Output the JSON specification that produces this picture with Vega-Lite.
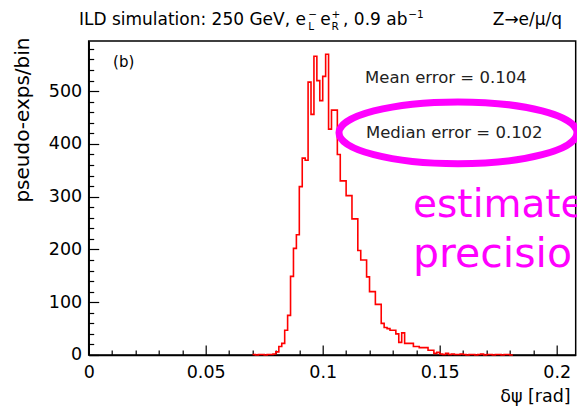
{
  "$schema": "https://vega.github.io/schema/vega-lite/v6.json",
  "autosize": {"type": "none"},
  "width": 487,
  "height": 314,
  "padding": {"left": 88.7, "top": 41, "right": 1, "bottom": 55},
  "background": "white",
  "config": {
    "view": {"stroke": "black", "strokeWidth": 1.5},
    "text": {"font": "DejaVu Sans", "fill": "black", "fontWeight": "normal"}
  },
  "resolve": {"axis": {"x": "independent", "y": "independent"}},
  "layer": [
    {
      "data": {"values": [
        {"x": 0.07, "n": 1}, {"x": 0.07125, "n": 0}, {"x": 0.0725, "n": 1}, {"x": 0.07375, "n": 1},
        {"x": 0.075, "n": 0}, {"x": 0.07625, "n": 1}, {"x": 0.0775, "n": 1}, {"x": 0.07875, "n": 2},
        {"x": 0.08, "n": 6}, {"x": 0.08125, "n": 16}, {"x": 0.0825, "n": 22}, {"x": 0.08375, "n": 47},
        {"x": 0.085, "n": 75}, {"x": 0.08625, "n": 149}, {"x": 0.0875, "n": 202}, {"x": 0.08875, "n": 228},
        {"x": 0.09, "n": 319}, {"x": 0.09125, "n": 373}, {"x": 0.0925, "n": 369}, {"x": 0.09375, "n": 517},
        {"x": 0.095, "n": 456}, {"x": 0.09625, "n": 566}, {"x": 0.0975, "n": 520}, {"x": 0.09875, "n": 482},
        {"x": 0.1, "n": 528}, {"x": 0.10125, "n": 570}, {"x": 0.1025, "n": 428}, {"x": 0.10375, "n": 464},
        {"x": 0.105, "n": 464}, {"x": 0.10625, "n": 380}, {"x": 0.1075, "n": 330}, {"x": 0.10875, "n": 330},
        {"x": 0.11, "n": 302}, {"x": 0.11125, "n": 302}, {"x": 0.1125, "n": 258}, {"x": 0.11375, "n": 258},
        {"x": 0.115, "n": 198}, {"x": 0.11625, "n": 180}, {"x": 0.1175, "n": 180}, {"x": 0.11875, "n": 148},
        {"x": 0.12, "n": 120}, {"x": 0.12125, "n": 120}, {"x": 0.1225, "n": 96}, {"x": 0.12375, "n": 96},
        {"x": 0.125, "n": 60}, {"x": 0.12625, "n": 52}, {"x": 0.1275, "n": 50}, {"x": 0.12875, "n": 47},
        {"x": 0.13, "n": 47}, {"x": 0.13125, "n": 40}, {"x": 0.1325, "n": 24}, {"x": 0.13375, "n": 42},
        {"x": 0.135, "n": 22}, {"x": 0.13625, "n": 22}, {"x": 0.1375, "n": 22}, {"x": 0.13875, "n": 16},
        {"x": 0.14, "n": 16}, {"x": 0.14125, "n": 14}, {"x": 0.1425, "n": 14}, {"x": 0.14375, "n": 14},
        {"x": 0.145, "n": 9}, {"x": 0.14625, "n": 9}, {"x": 0.1475, "n": 3}, {"x": 0.14875, "n": 5},
        {"x": 0.15, "n": 2}, {"x": 0.15125, "n": 1}, {"x": 0.1525, "n": 3}, {"x": 0.15375, "n": 1},
        {"x": 0.155, "n": 2}, {"x": 0.15625, "n": 1}, {"x": 0.1575, "n": 1}, {"x": 0.15875, "n": 2},
        {"x": 0.16, "n": 1}, {"x": 0.16125, "n": 0}, {"x": 0.1625, "n": 1}, {"x": 0.16375, "n": 1},
        {"x": 0.165, "n": 0}, {"x": 0.16625, "n": 1}, {"x": 0.1675, "n": 2}, {"x": 0.16875, "n": 0},
        {"x": 0.17, "n": 1}, {"x": 0.17125, "n": 1}, {"x": 0.1725, "n": 0}, {"x": 0.17375, "n": 1},
        {"x": 0.175, "n": 1}, {"x": 0.17625, "n": 0}, {"x": 0.1775, "n": 1}, {"x": 0.17875, "n": 1},
        {"x": 0.18, "n": 0}, {"x": 0.18125, "n": 0}
      ]},
      "mark": {"type": "line", "interpolate": "step-after", "color": "#ff0000", "strokeWidth": 1.6},
      "encoding": {
        "x": {
          "field": "x", "type": "quantitative",
          "scale": {"domain": [0, 0.2081], "nice": false, "zero": false},
          "axis": {
            "values": [0, 0.01, 0.02, 0.03, 0.04, 0.05, 0.06, 0.07, 0.08, 0.09, 0.1, 0.11, 0.12, 0.13, 0.14, 0.15, 0.16, 0.17, 0.18, 0.19, 0.2],
            "labelExpr": "abs(datum.value*20-round(datum.value*20))<1e-6 ? format(datum.value,'~g') : ''",
            "tickSize": {"condition": {"test": "abs(datum.value*20-round(datum.value*20))<1e-6", "value": -10}, "value": -5},
            "tickColor": "black", "tickWidth": 1.2,
            "domainColor": "black", "domainWidth": 1.5,
            "grid": false, "labelFlush": false, "labelOverlap": false,
            "labelFont": "DejaVu Sans", "labelFontSize": 17.5, "labelColor": "black", "labelPadding": 19,
            "title": "δψ [rad]", "titleFont": "DejaVu Sans", "titleFontSize": 17.5, "titleFontWeight": "normal",
            "titleColor": "black", "titleAlign": "right", "titleBaseline": "middle", "titleX": 481.5, "titleY": 42
          }
        },
        "y": {
          "field": "n", "type": "quantitative",
          "scale": {"domain": [0, 595], "nice": false},
          "axis": {
            "values": [0, 20, 40, 60, 80, 100, 120, 140, 160, 180, 200, 220, 240, 260, 280, 300, 320, 340, 360, 380, 400, 420, 440, 460, 480, 500, 520, 540, 560, 580],
            "labelExpr": "datum.value % 100 == 0 ? datum.value : ''",
            "tickSize": {"condition": {"test": "datum.value % 100 == 0", "value": -10}, "value": -5},
            "tickColor": "black", "tickWidth": 1.2,
            "domainColor": "black", "domainWidth": 1.5,
            "grid": false, "labelOverlap": false, "labelFlush": false,
            "labelFont": "DejaVu Sans", "labelFontSize": 17.5, "labelColor": "black", "labelPadding": 17,
            "title": "pseudo-exps/bin", "titleFont": "DejaVu Sans", "titleFontSize": 20, "titleFontWeight": "normal",
            "titleColor": "black", "titleAngle": -90, "titleAlign": "right", "titleBaseline": "middle", "titleX": -65.7, "titleY": -4
          }
        }
      }
    },
    {
      "data": {"values": [{}]},
      "mark": {"type": "point", "shape": "M-1,0A1,0.26,0,1,0,1,0A1,0.26,0,1,0,-1,0Z", "filled": false, "stroke": "#ff00ff", "strokeWidth": 7, "size": 56644, "opacity": 1},
      "encoding": {"x": {"datum": 0.1578, "type": "quantitative", "axis": null}, "y": {"datum": 421, "type": "quantitative", "axis": null}}
    },
    {
      "data": {"values": [{}]},
      "mark": {"type": "text", "text": "(b)", "fontSize": 15, "align": "left", "baseline": "middle"},
      "encoding": {"x": {"datum": 0.0104, "type": "quantitative", "axis": null}, "y": {"datum": 555, "type": "quantitative", "axis": null}}
    },
    {
      "data": {"values": [{}]},
      "mark": {"type": "text", "text": "Mean error =  0.104", "fontSize": 16.5, "align": "left", "baseline": "middle", "fill": "#222222"},
      "encoding": {"x": {"datum": 0.1181, "type": "quantitative", "axis": null}, "y": {"datum": 525, "type": "quantitative", "axis": null}}
    },
    {
      "data": {"values": [{}]},
      "mark": {"type": "text", "text": "Median error =  0.102", "fontSize": 16.5, "align": "left", "baseline": "middle", "fill": "#222222"},
      "encoding": {"x": {"datum": 0.1185, "type": "quantitative", "axis": null}, "y": {"datum": 420.7, "type": "quantitative", "axis": null}}
    },
    {
      "data": {"values": [{}]},
      "mark": {"type": "text", "text": "estimate", "fontSize": 39, "align": "left", "baseline": "alphabetic", "fill": "#ff00ff"},
      "encoding": {"x": {"datum": 0.1386, "type": "quantitative", "axis": null}, "y": {"datum": 261.5, "type": "quantitative", "axis": null}}
    },
    {
      "data": {"values": [{}]},
      "mark": {"type": "text", "text": "precisio", "fontSize": 41, "align": "left", "baseline": "alphabetic", "fill": "#ff00ff"},
      "encoding": {"x": {"datum": 0.1386, "type": "quantitative", "axis": null}, "y": {"datum": 166.7, "type": "quantitative", "axis": null}}
    },
    {
      "data": {"values": [{}]},
      "mark": {"type": "text", "text": "ILD simulation: 250 GeV, e", "fontSize": 17, "align": "left", "baseline": "alphabetic"},
      "encoding": {"x": {"datum": -0.00415, "type": "quantitative", "axis": null}, "y": {"datum": 625.3, "type": "quantitative", "axis": null}}
    },
    {
      "data": {"values": [{}]},
      "mark": {"type": "text", "text": "−", "fontSize": 10.5, "align": "left", "baseline": "alphabetic"},
      "encoding": {"x": {"datum": 0.0938, "type": "quantitative", "axis": null}, "y": {"datum": 638.6, "type": "quantitative", "axis": null}}
    },
    {
      "data": {"values": [{}]},
      "mark": {"type": "text", "text": "L", "fontSize": 10.5, "align": "left", "baseline": "alphabetic"},
      "encoding": {"x": {"datum": 0.0938, "type": "quantitative", "axis": null}, "y": {"datum": 615.8, "type": "quantitative", "axis": null}}
    },
    {
      "data": {"values": [{}]},
      "mark": {"type": "text", "text": "e", "fontSize": 17, "align": "left", "baseline": "alphabetic"},
      "encoding": {"x": {"datum": 0.0989, "type": "quantitative", "axis": null}, "y": {"datum": 625.3, "type": "quantitative", "axis": null}}
    },
    {
      "data": {"values": [{}]},
      "mark": {"type": "text", "text": "+", "fontSize": 10.5, "align": "left", "baseline": "alphabetic"},
      "encoding": {"x": {"datum": 0.1038, "type": "quantitative", "axis": null}, "y": {"datum": 638.6, "type": "quantitative", "axis": null}}
    },
    {
      "data": {"values": [{}]},
      "mark": {"type": "text", "text": "R", "fontSize": 10.5, "align": "left", "baseline": "alphabetic"},
      "encoding": {"x": {"datum": 0.1038, "type": "quantitative", "axis": null}, "y": {"datum": 615.8, "type": "quantitative", "axis": null}}
    },
    {
      "data": {"values": [{}]},
      "mark": {"type": "text", "text": ", 0.9 ab", "fontSize": 17, "align": "left", "baseline": "alphabetic"},
      "encoding": {"x": {"datum": 0.1087, "type": "quantitative", "axis": null}, "y": {"datum": 625.3, "type": "quantitative", "axis": null}}
    },
    {
      "data": {"values": [{}]},
      "mark": {"type": "text", "text": "−1", "fontSize": 10.5, "align": "left", "baseline": "alphabetic"},
      "encoding": {"x": {"datum": 0.1365, "type": "quantitative", "axis": null}, "y": {"datum": 638.6, "type": "quantitative", "axis": null}}
    },
    {
      "data": {"values": [{}]},
      "mark": {"type": "text", "text": "Z→e/μ/q", "fontSize": 17, "align": "right", "baseline": "alphabetic"},
      "encoding": {"x": {"datum": 0.2023, "type": "quantitative", "axis": null}, "y": {"datum": 625.3, "type": "quantitative", "axis": null}}
    }
  ]
}
